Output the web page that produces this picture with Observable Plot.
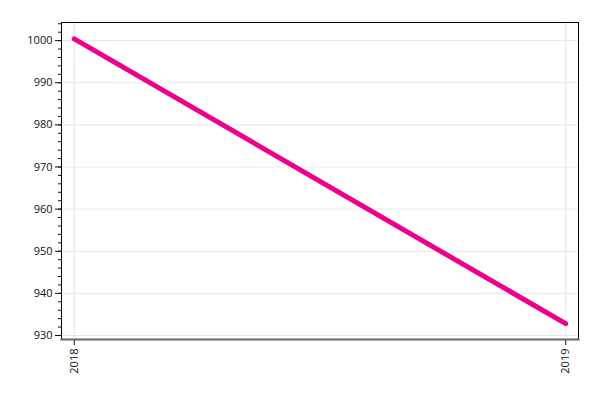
<!DOCTYPE html>
<html>
<head>
<meta charset="utf-8">
<script src="https://cdn.jsdelivr.net/npm/d3@7"></script>
<script src="https://cdn.jsdelivr.net/npm/@observablehq/plot@0.6"></script>
<style>
  body { margin: 0; background: #fff; }
  #chart { width: 600px; height: 400px; }
</style>
</head>
<body>
<div id="chart"></div>
<script>
const years = [2018, 2019];
const values = [1000.4, 932.8];
const yTickValues = [930, 940, 950, 960, 970, 980, 990, 1000];
const yMinorTicks = d3.range(930, 1005, 2);
const yDomain = [929.05, 1004.3];
const xDomain = [2017.974, 2019.026];

const data = years.map((y, i) => ({year: y, value: values[i]}));

const chart = Plot.plot({
  width: 600,
  height: 400,
  marginLeft: 61,
  marginRight: 22,
  marginTop: 22,
  marginBottom: 61,
  style: {fontFamily: "'Open Sans', sans-serif", fontSize: "11px", color: "#111", background: "#fff"},
  x: {domain: xDomain, label: null},
  y: {domain: yDomain, label: null},
  marks: [
    Plot.gridY(yTickValues, {stroke: "#e8e8e8", strokeOpacity: 1}),
    Plot.gridX(years, {stroke: "#e8e8e8", strokeOpacity: 1}),
    Plot.axisY(yMinorTicks, {tickSize: 3, text: null, stroke: "#111"}),
    Plot.axisY(yTickValues, {tickSize: 6, tickPadding: 3, tickFormat: d => String(d), fontSize: 11, stroke: "#111", label: null}),
    Plot.axisX(years, {tickRotate: -90, tickSize: 6, tickPadding: 3, tickFormat: d => String(d), fontSize: 11, stroke: "#111", label: null}),
    Plot.frame({stroke: "#000", strokeWidth: 1}),
    Plot.frame({anchor: "bottom", stroke: "#666", strokeWidth: 2}),
    Plot.line(data, {x: "year", y: "value", stroke: "#ec008c", strokeWidth: 5, strokeLinecap: "round"})
  ]
});
document.getElementById("chart").append(chart);
</script>
</body>
</html>
